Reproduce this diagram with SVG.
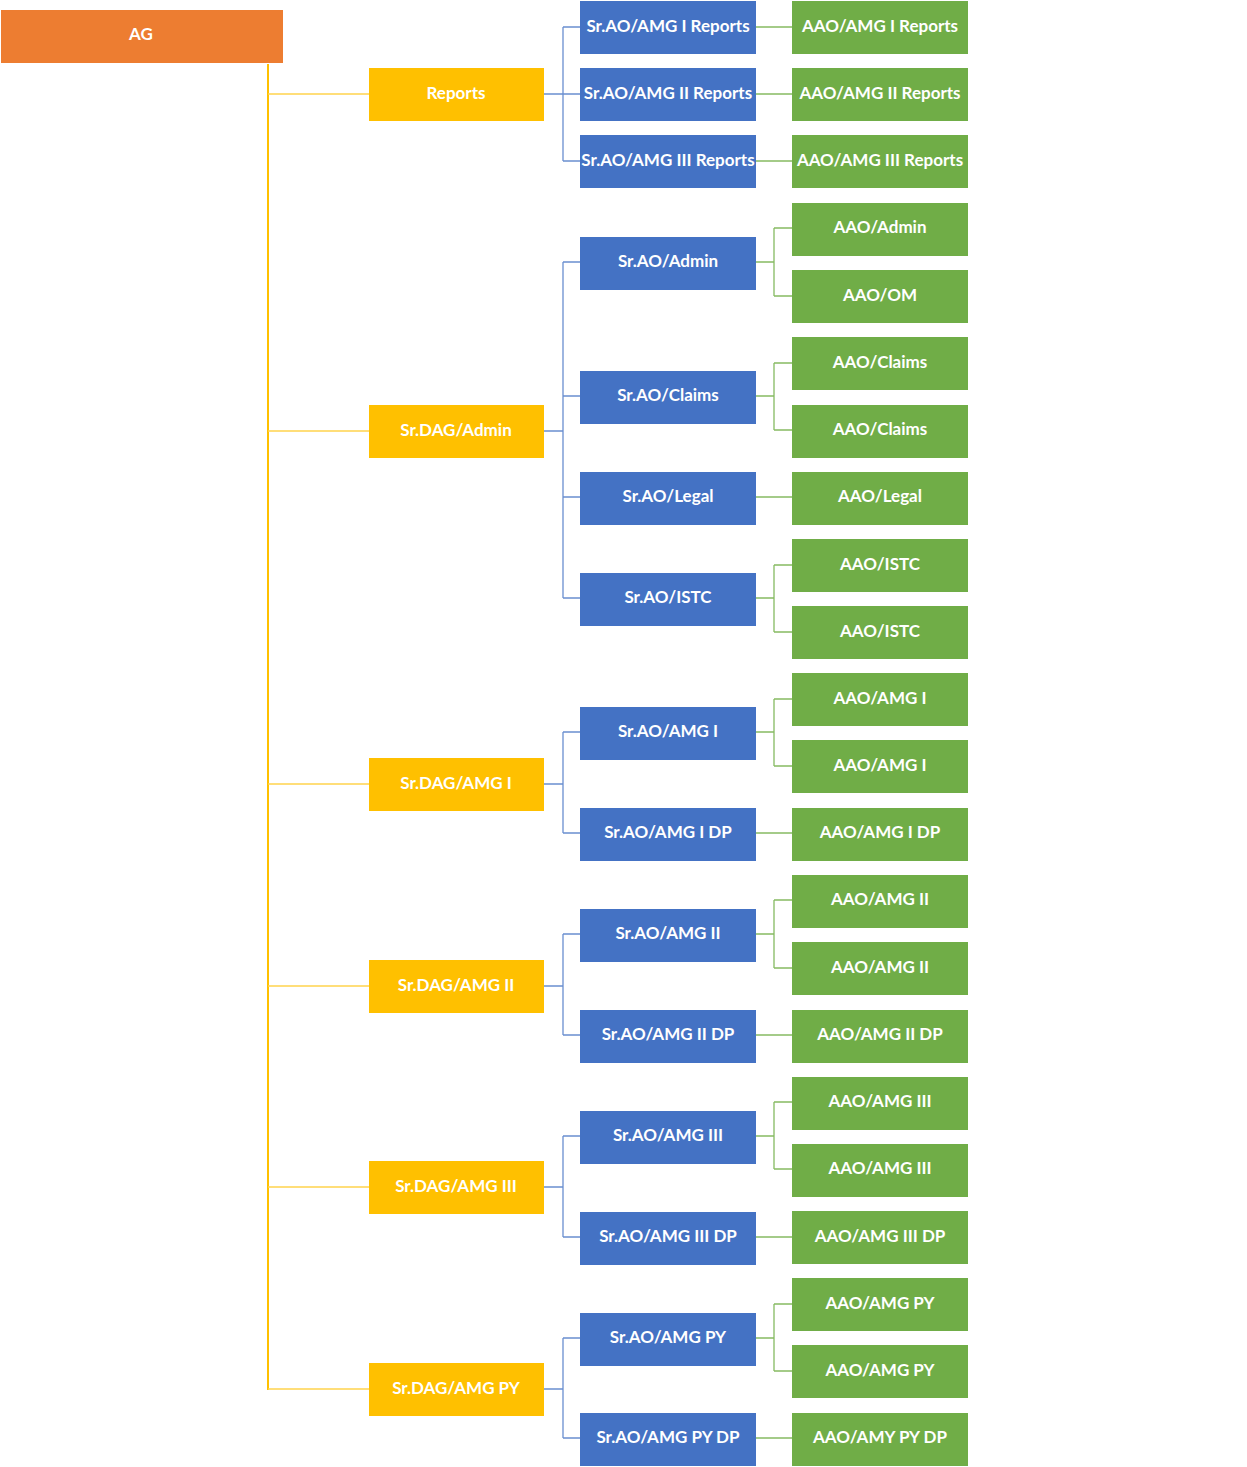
<svg xmlns="http://www.w3.org/2000/svg" width="1247" height="1467" viewBox="0 0 1247 1467">
<style>
.t{font-family:Lato,"Liberation Sans",sans-serif;font-weight:700;font-size:17px;fill:#fff;text-anchor:middle;dominant-baseline:central}
.o{fill:#ED7D31}.y{fill:#FFC000}.b{fill:#4472C4}.g{fill:#70AD47}
.ly{stroke:#FFD34D;stroke-width:1.3;fill:none}
.lt{stroke:#FFC000;stroke-width:2;fill:none}
.lb{stroke:#6A8FD0;stroke-width:1.3;fill:none}
.lg{stroke:#86BA62;stroke-width:1.3;fill:none}
</style>
<rect width="1247" height="1467" fill="#fff"/>
<g id="connectors">
<path class="lt" d="M268 64V1390"/>
<path class="ly" d="M268 94H369M268 431H369M268 784H369M268 986H369M268 1187H369M268 1389H369"/>
<path class="lb" d="M544 94H563M563 27V161M563 27H580M563 94H580M563 161H580"/>
<path class="lb" d="M544 431H563M563 262V598M563 262H580M563 396H580M563 497H580M563 598H580"/>
<path class="lb" d="M544 784H563M563 732V833M563 732H580M563 833H580"/>
<path class="lb" d="M544 986H563M563 934V1035M563 934H580M563 1035H580"/>
<path class="lb" d="M544 1187H563M563 1136V1237M563 1136H580M563 1237H580"/>
<path class="lb" d="M544 1389H563M563 1338V1438M563 1338H580M563 1438H580"/>
<path class="lg" d="M756 27H792M756 94H792M756 161H792"/>
<path class="lg" d="M756 262H774M774 228V296M774 228H792M774 296H792"/>
<path class="lg" d="M756 396H774M774 363V430M774 363H792M774 430H792"/>
<path class="lg" d="M756 497H792"/>
<path class="lg" d="M756 598H774M774 565V632M774 565H792M774 632H792"/>
<path class="lg" d="M756 732H774M774 699V766M774 699H792M774 766H792"/>
<path class="lg" d="M756 833H792"/>
<path class="lg" d="M756 934H774M774 900V968M774 900H792M774 968H792"/>
<path class="lg" d="M756 1035H792"/>
<path class="lg" d="M756 1136H774M774 1102V1169M774 1102H792M774 1169H792"/>
<path class="lg" d="M756 1237H792"/>
<path class="lg" d="M756 1338H774M774 1304V1371M774 1304H792M774 1371H792"/>
<path class="lg" d="M756 1438H792"/>
</g>
<g id="ag"><rect class="o" x="1" y="10" width="282" height="53"/><text class="t" x="141" y="33">AG</text></g>
<g id="y-reports"><rect class="y" x="369" y="68" width="175" height="53"/><text class="t" x="456" y="92">Reports</text></g>
<g id="y-admin"><rect class="y" x="369" y="405" width="175" height="53"/><text class="t" x="456" y="429">Sr.DAG/Admin</text></g>
<g id="y-amg1"><rect class="y" x="369" y="758" width="175" height="53"/><text class="t" x="456" y="782">Sr.DAG/AMG I</text></g>
<g id="y-amg2"><rect class="y" x="369" y="960" width="175" height="53"/><text class="t" x="456" y="984">Sr.DAG/AMG II</text></g>
<g id="y-amg3"><rect class="y" x="369" y="1161" width="175" height="53"/><text class="t" x="456" y="1185">Sr.DAG/AMG III</text></g>
<g id="y-py"><rect class="y" x="369" y="1363" width="175" height="53"/><text class="t" x="456" y="1387">Sr.DAG/AMG PY</text></g>
<g id="b-r1"><rect class="b" x="580" y="1" width="176" height="53"/><text class="t" x="668" y="25">Sr.AO/AMG I Reports</text></g>
<g id="b-r2"><rect class="b" x="580" y="68" width="176" height="53"/><text class="t" x="668" y="92">Sr.AO/AMG II Reports</text></g>
<g id="b-r3"><rect class="b" x="580" y="135" width="176" height="53"/><text class="t" x="668" y="159">Sr.AO/AMG III Reports</text></g>
<g id="b-admin"><rect class="b" x="580" y="237" width="176" height="53"/><text class="t" x="668" y="260">Sr.AO/Admin</text></g>
<g id="b-claims"><rect class="b" x="580" y="371" width="176" height="53"/><text class="t" x="668" y="394">Sr.AO/Claims</text></g>
<g id="b-legal"><rect class="b" x="580" y="472" width="176" height="53"/><text class="t" x="668" y="495">Sr.AO/Legal</text></g>
<g id="b-istc"><rect class="b" x="580" y="573" width="176" height="53"/><text class="t" x="668" y="596">Sr.AO/ISTC</text></g>
<g id="b-amg1"><rect class="b" x="580" y="707" width="176" height="53"/><text class="t" x="668" y="730">Sr.AO/AMG I</text></g>
<g id="b-amg1dp"><rect class="b" x="580" y="808" width="176" height="53"/><text class="t" x="668" y="831">Sr.AO/AMG I DP</text></g>
<g id="b-amg2"><rect class="b" x="580" y="909" width="176" height="53"/><text class="t" x="668" y="932">Sr.AO/AMG II</text></g>
<g id="b-amg2dp"><rect class="b" x="580" y="1010" width="176" height="53"/><text class="t" x="668" y="1033">Sr.AO/AMG II DP</text></g>
<g id="b-amg3"><rect class="b" x="580" y="1111" width="176" height="53"/><text class="t" x="668" y="1134">Sr.AO/AMG III</text></g>
<g id="b-amg3dp"><rect class="b" x="580" y="1212" width="176" height="53"/><text class="t" x="668" y="1235">Sr.AO/AMG III DP</text></g>
<g id="b-py"><rect class="b" x="580" y="1313" width="176" height="53"/><text class="t" x="668" y="1336">Sr.AO/AMG PY</text></g>
<g id="b-pydp"><rect class="b" x="580" y="1413" width="176" height="53"/><text class="t" x="668" y="1436">Sr.AO/AMG PY DP</text></g>
<g id="g-r1"><rect class="g" x="792" y="1" width="176" height="53"/><text class="t" x="880" y="25">AAO/AMG I Reports</text></g>
<g id="g-r2"><rect class="g" x="792" y="68" width="176" height="53"/><text class="t" x="880" y="92">AAO/AMG II Reports</text></g>
<g id="g-r3"><rect class="g" x="792" y="135" width="176" height="53"/><text class="t" x="880" y="159">AAO/AMG III Reports</text></g>
<g id="g-admin"><rect class="g" x="792" y="203" width="176" height="53"/><text class="t" x="880" y="226">AAO/Admin</text></g>
<g id="g-om"><rect class="g" x="792" y="270" width="176" height="53"/><text class="t" x="880" y="294">AAO/OM</text></g>
<g id="g-claims1"><rect class="g" x="792" y="337" width="176" height="53"/><text class="t" x="880" y="361">AAO/Claims</text></g>
<g id="g-claims2"><rect class="g" x="792" y="405" width="176" height="53"/><text class="t" x="880" y="428">AAO/Claims</text></g>
<g id="g-legal"><rect class="g" x="792" y="472" width="176" height="53"/><text class="t" x="880" y="495">AAO/Legal</text></g>
<g id="g-istc1"><rect class="g" x="792" y="539" width="176" height="53"/><text class="t" x="880" y="563">AAO/ISTC</text></g>
<g id="g-istc2"><rect class="g" x="792" y="606" width="176" height="53"/><text class="t" x="880" y="630">AAO/ISTC</text></g>
<g id="g-amg1a"><rect class="g" x="792" y="673" width="176" height="53"/><text class="t" x="880" y="697">AAO/AMG I</text></g>
<g id="g-amg1b"><rect class="g" x="792" y="740" width="176" height="53"/><text class="t" x="880" y="764">AAO/AMG I</text></g>
<g id="g-amg1dp"><rect class="g" x="792" y="808" width="176" height="53"/><text class="t" x="880" y="831">AAO/AMG I DP</text></g>
<g id="g-amg2a"><rect class="g" x="792" y="875" width="176" height="53"/><text class="t" x="880" y="898">AAO/AMG II</text></g>
<g id="g-amg2b"><rect class="g" x="792" y="942" width="176" height="53"/><text class="t" x="880" y="966">AAO/AMG II</text></g>
<g id="g-amg2dp"><rect class="g" x="792" y="1010" width="176" height="53"/><text class="t" x="880" y="1033">AAO/AMG II DP</text></g>
<g id="g-amg3a"><rect class="g" x="792" y="1077" width="176" height="53"/><text class="t" x="880" y="1100">AAO/AMG III</text></g>
<g id="g-amg3b"><rect class="g" x="792" y="1144" width="176" height="53"/><text class="t" x="880" y="1167">AAO/AMG III</text></g>
<g id="g-amg3dp"><rect class="g" x="792" y="1211" width="176" height="53"/><text class="t" x="880" y="1235">AAO/AMG III DP</text></g>
<g id="g-pya"><rect class="g" x="792" y="1278" width="176" height="53"/><text class="t" x="880" y="1302">AAO/AMG PY</text></g>
<g id="g-pyb"><rect class="g" x="792" y="1345" width="176" height="53"/><text class="t" x="880" y="1369">AAO/AMG PY</text></g>
<g id="g-pydp"><rect class="g" x="792" y="1413" width="176" height="53"/><text class="t" x="880" y="1436">AAO/AMY PY DP</text></g>
</svg>
